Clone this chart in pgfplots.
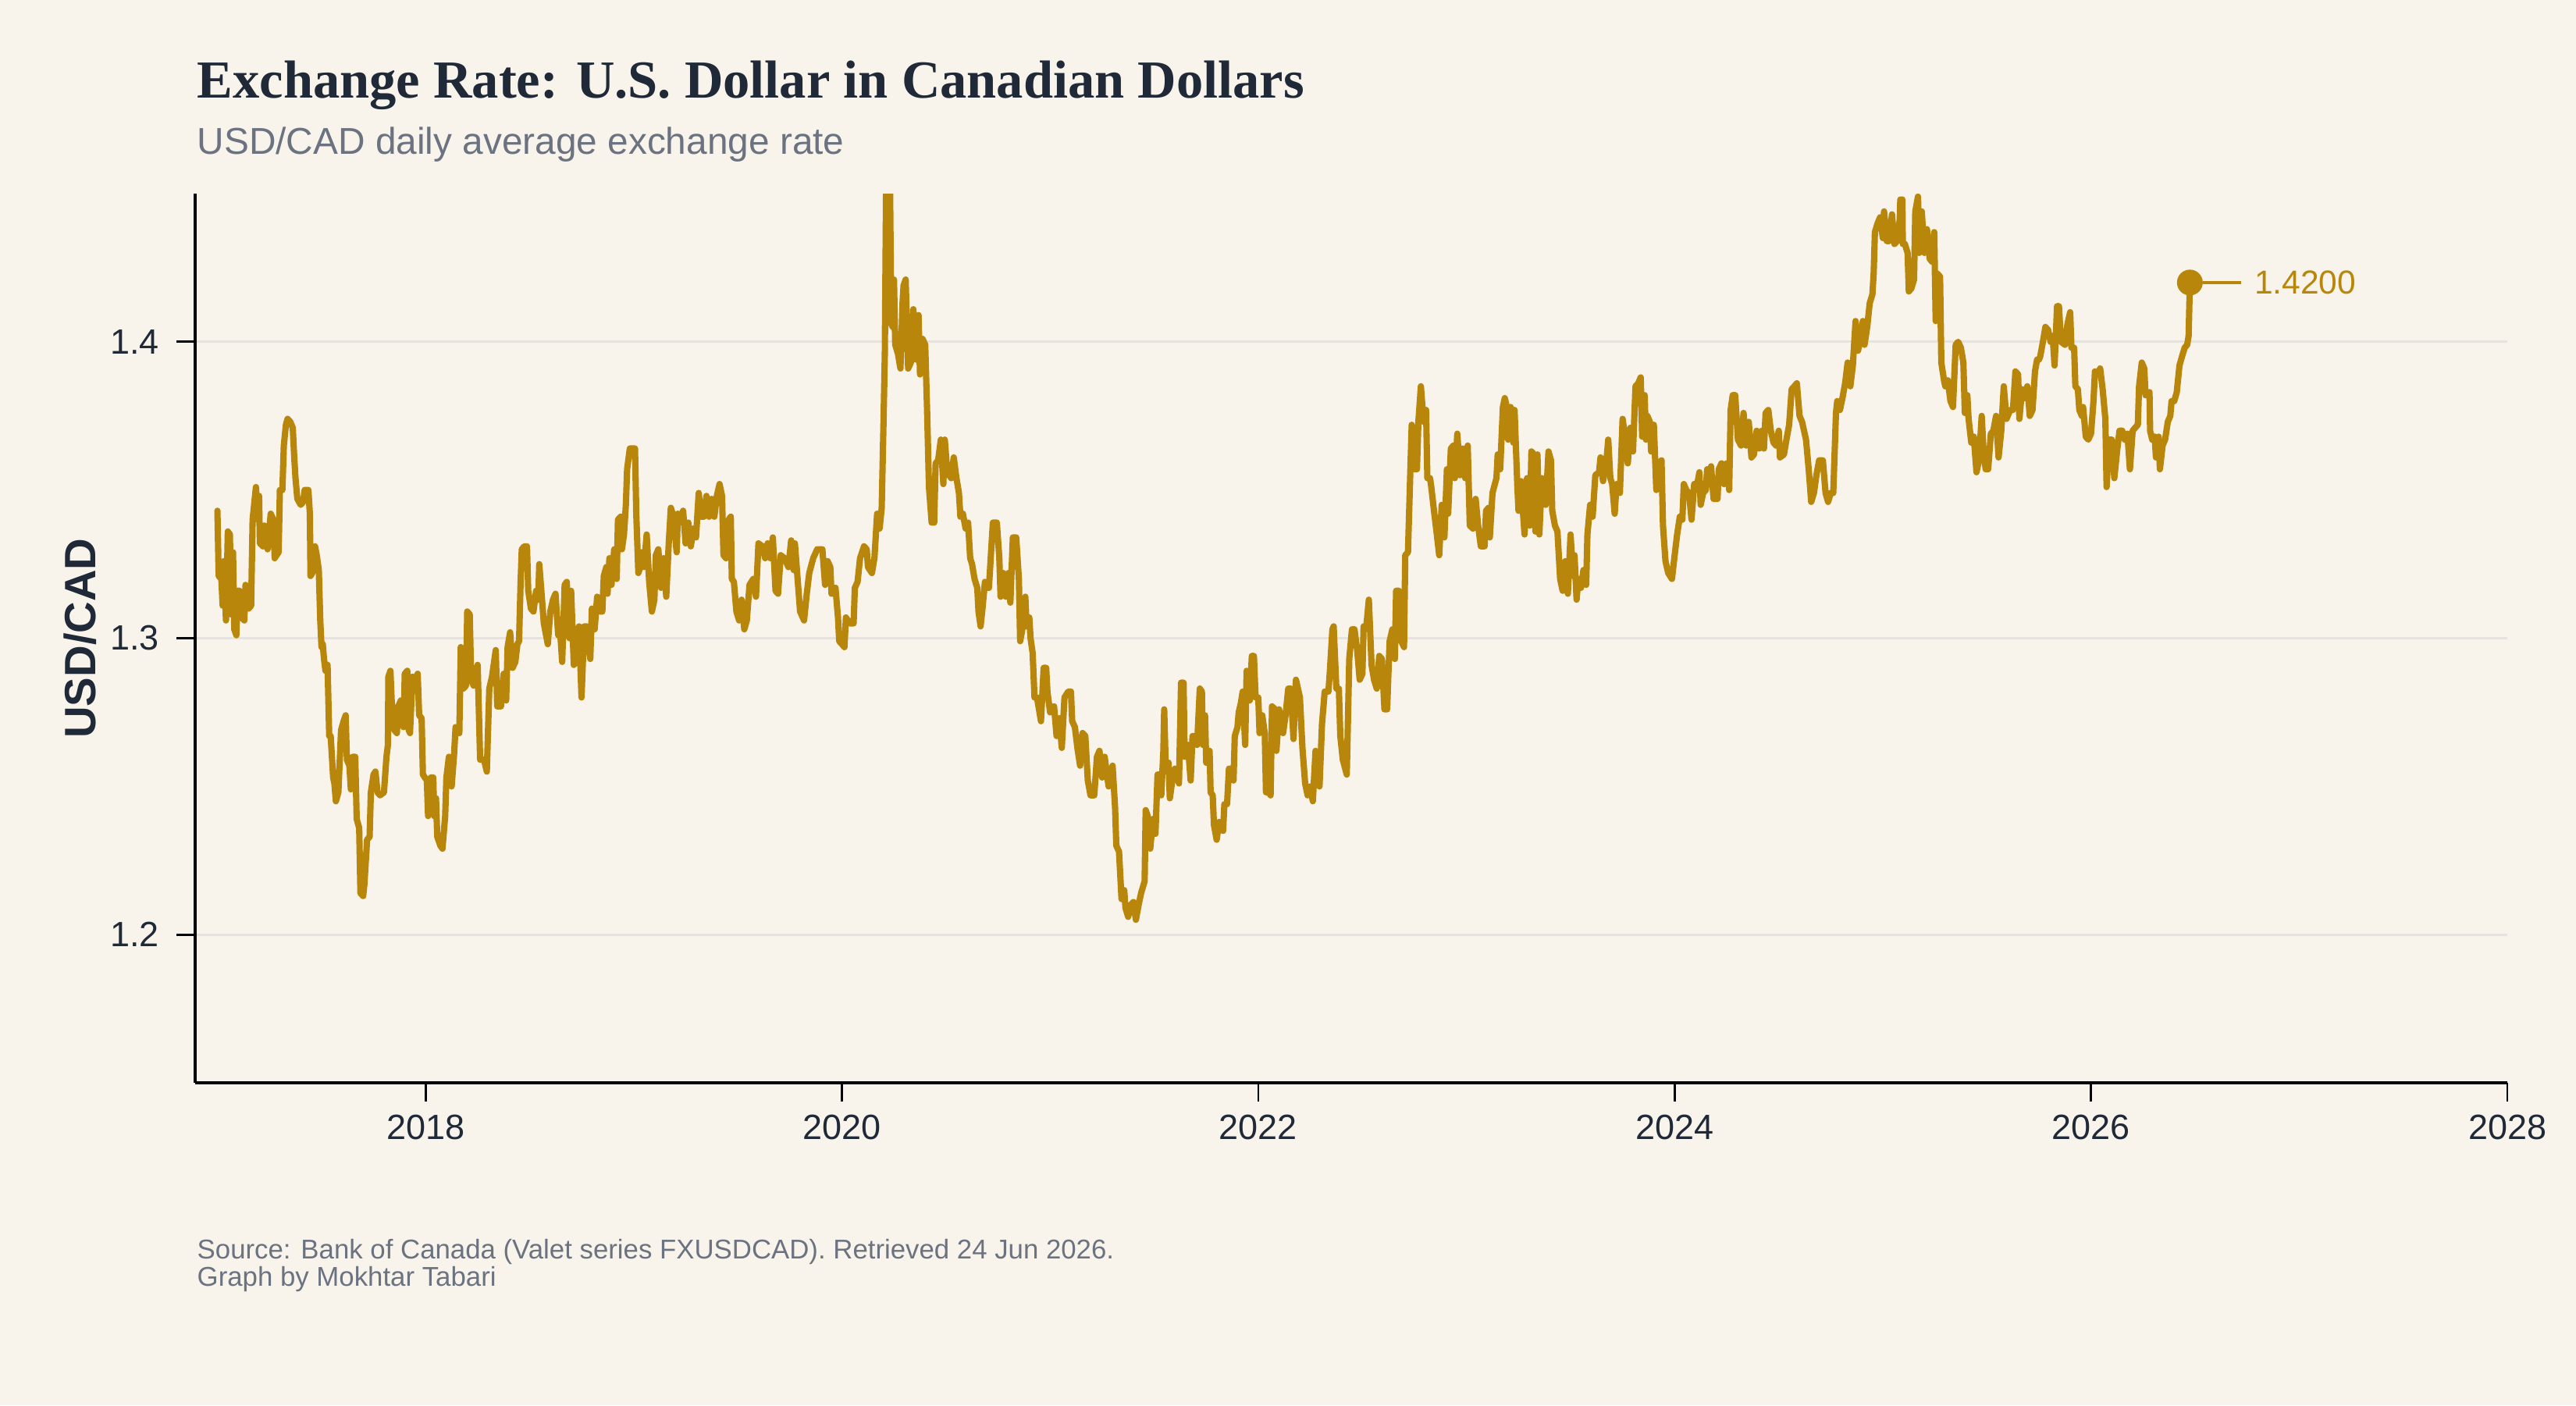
\documentclass[border=0pt]{standalone}
\usepackage{fontspec}
\setmainfont{Liberation Sans}
\newfontfamily\titlefont{Liberation Serif}
\usepackage{pgfplots}
\pgfplotsset{compat=1.18}
\usepackage{pgfplotstable}
\definecolor{bg}{HTML}{F8F4EB}
\definecolor{gold}{HTML}{B8860B}
\definecolor{ink}{HTML}{1F2937}
\definecolor{muted}{HTML}{6B7280}
\definecolor{gridc}{HTML}{E6E3DE}
\pgfplotstableread{
year rate
2017.000 1.343
2017.006 1.321
2017.019 1.320
2017.025 1.311
2017.031 1.326
2017.041 1.306
2017.050 1.336
2017.060 1.335
2017.066 1.308
2017.075 1.329
2017.081 1.303
2017.091 1.301
2017.097 1.316
2017.106 1.316
2017.116 1.307
2017.129 1.306
2017.135 1.318
2017.150 1.310
2017.162 1.311
2017.169 1.340
2017.185 1.351
2017.194 1.340
2017.200 1.348
2017.204 1.332
2017.219 1.331
2017.225 1.338
2017.241 1.330
2017.256 1.342
2017.269 1.340
2017.275 1.327
2017.294 1.329
2017.300 1.350
2017.312 1.350
2017.319 1.365
2017.329 1.372
2017.337 1.374
2017.350 1.373
2017.362 1.371
2017.369 1.361
2017.375 1.354
2017.384 1.347
2017.400 1.345
2017.412 1.346
2017.419 1.350
2017.437 1.350
2017.444 1.342
2017.447 1.321
2017.456 1.322
2017.469 1.331
2017.477 1.328
2017.487 1.323
2017.494 1.306
2017.500 1.297
2017.506 1.298
2017.512 1.293
2017.519 1.289
2017.529 1.291
2017.537 1.267
2017.544 1.267
2017.556 1.253
2017.562 1.251
2017.569 1.245
2017.581 1.248
2017.594 1.269
2017.606 1.272
2017.616 1.274
2017.622 1.259
2017.634 1.257
2017.641 1.249
2017.650 1.260
2017.662 1.260
2017.669 1.239
2017.681 1.236
2017.687 1.214
2017.700 1.213
2017.706 1.217
2017.719 1.232
2017.731 1.233
2017.737 1.248
2017.750 1.254
2017.759 1.255
2017.769 1.248
2017.781 1.247
2017.800 1.248
2017.812 1.260
2017.819 1.264
2017.821 1.287
2017.831 1.289
2017.837 1.279
2017.850 1.269
2017.862 1.268
2017.869 1.277
2017.881 1.279
2017.894 1.270
2017.900 1.288
2017.912 1.289
2017.919 1.269
2017.925 1.268
2017.937 1.287
2017.950 1.286
2017.962 1.288
2017.969 1.274
2017.981 1.273
2017.987 1.254
2018.006 1.252
2018.012 1.240
2018.025 1.253
2018.037 1.253
2018.041 1.240
2018.050 1.246
2018.056 1.233
2018.071 1.230
2018.081 1.229
2018.094 1.240
2018.100 1.253
2018.112 1.260
2018.125 1.250
2018.137 1.261
2018.144 1.270
2018.162 1.268
2018.169 1.297
2018.181 1.283
2018.194 1.284
2018.200 1.309
2018.212 1.308
2018.219 1.286
2018.231 1.284
2018.250 1.291
2018.262 1.259
2018.281 1.259
2018.294 1.255
2018.306 1.283
2018.319 1.287
2018.337 1.296
2018.344 1.277
2018.362 1.277
2018.375 1.288
2018.387 1.279
2018.394 1.297
2018.406 1.302
2018.418 1.290
2018.431 1.292
2018.441 1.298
2018.449 1.299
2018.456 1.318
2018.462 1.330
2018.474 1.331
2018.487 1.331
2018.493 1.316
2018.506 1.310
2018.518 1.309
2018.531 1.316
2018.541 1.313
2018.546 1.325
2018.556 1.316
2018.568 1.305
2018.587 1.298
2018.599 1.309
2018.612 1.313
2018.624 1.315
2018.637 1.301
2018.643 1.306
2018.656 1.292
2018.668 1.318
2018.678 1.319
2018.691 1.300
2018.699 1.316
2018.712 1.291
2018.724 1.292
2018.737 1.304
2018.749 1.280
2018.762 1.304
2018.774 1.304
2018.791 1.293
2018.799 1.310
2018.812 1.303
2018.824 1.314
2018.837 1.309
2018.849 1.309
2018.856 1.321
2018.868 1.324
2018.874 1.315
2018.883 1.327
2018.893 1.318
2018.906 1.330
2018.918 1.320
2018.924 1.340
2018.937 1.341
2018.943 1.330
2018.953 1.335
2018.962 1.345
2018.968 1.357
2018.981 1.364
2018.993 1.364
2019.006 1.364
2019.012 1.342
2019.022 1.322
2019.031 1.324
2019.037 1.329
2019.049 1.324
2019.062 1.335
2019.074 1.319
2019.087 1.309
2019.099 1.313
2019.106 1.328
2019.118 1.330
2019.131 1.317
2019.143 1.327
2019.156 1.314
2019.168 1.332
2019.178 1.344
2019.191 1.341
2019.206 1.329
2019.212 1.342
2019.224 1.340
2019.237 1.343
2019.249 1.332
2019.262 1.339
2019.274 1.331
2019.287 1.337
2019.299 1.334
2019.312 1.349
2019.324 1.341
2019.337 1.341
2019.349 1.348
2019.362 1.341
2019.374 1.347
2019.387 1.341
2019.399 1.348
2019.412 1.352
2019.424 1.348
2019.431 1.328
2019.443 1.327
2019.456 1.340
2019.466 1.341
2019.471 1.320
2019.481 1.319
2019.493 1.309
2019.506 1.306
2019.518 1.313
2019.531 1.303
2019.543 1.306
2019.556 1.318
2019.574 1.320
2019.587 1.314
2019.599 1.332
2019.618 1.331
2019.631 1.327
2019.643 1.332
2019.656 1.327
2019.668 1.334
2019.681 1.316
2019.693 1.315
2019.706 1.328
2019.724 1.327
2019.743 1.324
2019.756 1.333
2019.768 1.323
2019.774 1.332
2019.787 1.320
2019.799 1.309
2019.818 1.306
2019.831 1.315
2019.843 1.322
2019.862 1.327
2019.881 1.330
2019.906 1.330
2019.919 1.318
2019.931 1.326
2019.944 1.324
2019.950 1.315
2019.969 1.317
2019.981 1.307
2019.987 1.299
2020.000 1.298
2020.012 1.297
2020.019 1.307
2020.037 1.305
2020.056 1.305
2020.062 1.317
2020.075 1.319
2020.087 1.327
2020.106 1.331
2020.119 1.330
2020.125 1.324
2020.144 1.322
2020.156 1.327
2020.169 1.342
2020.181 1.337
2020.191 1.344
2020.200 1.374
2020.206 1.396
2020.212 1.452
2020.219 1.425
2020.222 1.452
2020.227 1.410
2020.231 1.452
2020.237 1.406
2020.244 1.405
2020.250 1.421
2020.256 1.399
2020.269 1.396
2020.281 1.391
2020.291 1.413
2020.296 1.419
2020.306 1.421
2020.318 1.391
2020.331 1.393
2020.343 1.411
2020.356 1.394
2020.368 1.409
2020.375 1.389
2020.387 1.401
2020.400 1.399
2020.409 1.377
2020.418 1.351
2020.431 1.339
2020.443 1.339
2020.450 1.359
2020.462 1.360
2020.475 1.367
2020.487 1.352
2020.494 1.367
2020.506 1.356
2020.525 1.354
2020.537 1.361
2020.550 1.354
2020.562 1.349
2020.569 1.341
2020.581 1.342
2020.594 1.337
2020.606 1.339
2020.616 1.327
2020.625 1.325
2020.637 1.320
2020.650 1.317
2020.656 1.309
2020.666 1.304
2020.675 1.310
2020.687 1.319
2020.706 1.317
2020.725 1.339
2020.744 1.339
2020.756 1.327
2020.762 1.314
2020.775 1.322
2020.787 1.314
2020.800 1.322
2020.809 1.312
2020.821 1.334
2020.837 1.334
2020.850 1.320
2020.856 1.299
2020.869 1.304
2020.881 1.314
2020.887 1.304
2020.900 1.307
2020.906 1.300
2020.916 1.295
2020.925 1.280
2020.937 1.280
2020.956 1.272
2020.969 1.290
2020.981 1.290
2020.987 1.282
2021.000 1.275
2021.019 1.277
2021.031 1.267
2021.044 1.273
2021.056 1.263
2021.069 1.280
2021.087 1.282
2021.100 1.282
2021.106 1.272
2021.119 1.270
2021.131 1.263
2021.144 1.257
2021.156 1.268
2021.169 1.267
2021.181 1.252
2021.194 1.247
2021.212 1.247
2021.225 1.260
2021.237 1.262
2021.250 1.253
2021.262 1.260
2021.275 1.253
2021.281 1.250
2021.300 1.257
2021.312 1.243
2021.318 1.230
2021.331 1.228
2021.343 1.212
2021.356 1.215
2021.362 1.209
2021.375 1.206
2021.387 1.210
2021.400 1.211
2021.412 1.205
2021.425 1.210
2021.437 1.214
2021.454 1.218
2021.459 1.242
2021.469 1.240
2021.481 1.229
2021.494 1.239
2021.506 1.234
2021.516 1.254
2021.529 1.254
2021.534 1.247
2021.544 1.262
2021.548 1.276
2021.556 1.255
2021.569 1.258
2021.575 1.246
2021.587 1.252
2021.600 1.256
2021.619 1.251
2021.629 1.285
2021.641 1.285
2021.646 1.260
2021.662 1.264
2021.675 1.252
2021.684 1.267
2021.694 1.267
2021.706 1.264
2021.719 1.283
2021.729 1.282
2021.734 1.264
2021.744 1.274
2021.750 1.258
2021.766 1.262
2021.771 1.248
2021.781 1.247
2021.787 1.237
2021.800 1.232
2021.812 1.238
2021.831 1.235
2021.837 1.244
2021.850 1.244
2021.859 1.256
2021.869 1.256
2021.881 1.252
2021.887 1.267
2021.900 1.270
2021.906 1.275
2021.916 1.278
2021.925 1.282
2021.937 1.264
2021.944 1.289
2021.959 1.279
2021.969 1.294
2021.979 1.294
2021.987 1.280
2022.000 1.280
2022.006 1.268
2022.019 1.274
2022.031 1.268
2022.037 1.248
2022.050 1.248
2022.059 1.247
2022.066 1.277
2022.081 1.276
2022.087 1.262
2022.100 1.276
2022.119 1.268
2022.131 1.274
2022.144 1.283
2022.156 1.283
2022.169 1.266
2022.181 1.286
2022.200 1.280
2022.212 1.263
2022.225 1.251
2022.237 1.247
2022.250 1.250
2022.262 1.245
2022.275 1.262
2022.294 1.250
2022.306 1.271
2022.319 1.282
2022.337 1.282
2022.344 1.289
2022.356 1.303
2022.362 1.304
2022.375 1.283
2022.387 1.283
2022.394 1.267
2022.406 1.259
2022.425 1.254
2022.437 1.293
2022.450 1.303
2022.462 1.303
2022.475 1.296
2022.487 1.286
2022.500 1.288
2022.506 1.304
2022.519 1.304
2022.531 1.313
2022.544 1.291
2022.556 1.286
2022.569 1.283
2022.581 1.294
2022.594 1.293
2022.606 1.276
2022.619 1.276
2022.625 1.288
2022.631 1.299
2022.644 1.303
2022.656 1.293
2022.662 1.316
2022.675 1.316
2022.687 1.299
2022.700 1.297
2022.706 1.328
2022.719 1.329
2022.731 1.358
2022.737 1.372
2022.750 1.357
2022.762 1.357
2022.769 1.373
2022.781 1.385
2022.794 1.373
2022.806 1.377
2022.812 1.354
2022.825 1.354
2022.831 1.351
2022.844 1.343
2022.856 1.336
2022.869 1.328
2022.881 1.345
2022.894 1.334
2022.906 1.357
2022.912 1.342
2022.925 1.364
2022.937 1.365
2022.944 1.354
2022.956 1.369
2022.969 1.355
2022.981 1.364
2022.994 1.354
2023.006 1.365
2023.016 1.338
2023.031 1.337
2023.044 1.347
2023.056 1.338
2023.069 1.331
2023.087 1.331
2023.094 1.343
2023.106 1.344
2023.112 1.334
2023.125 1.349
2023.144 1.354
2023.150 1.362
2023.162 1.357
2023.175 1.378
2023.184 1.381
2023.194 1.378
2023.200 1.367
2023.212 1.378
2023.225 1.366
2023.231 1.377
2023.244 1.352
2023.250 1.343
2023.262 1.353
2023.271 1.343
2023.279 1.335
2023.291 1.354
2023.304 1.338
2023.312 1.363
2023.325 1.362
2023.331 1.336
2023.341 1.362
2023.350 1.335
2023.362 1.354
2023.381 1.345
2023.394 1.363
2023.406 1.360
2023.412 1.343
2023.425 1.338
2023.437 1.336
2023.450 1.320
2023.462 1.316
2023.475 1.326
2023.487 1.315
2023.500 1.335
2023.512 1.321
2023.519 1.328
2023.529 1.313
2023.537 1.320
2023.550 1.317
2023.562 1.323
2023.575 1.318
2023.581 1.335
2023.594 1.345
2023.606 1.341
2023.619 1.355
2023.637 1.356
2023.644 1.361
2023.656 1.353
2023.675 1.362
2023.681 1.367
2023.691 1.354
2023.700 1.352
2023.712 1.342
2023.721 1.352
2023.737 1.349
2023.750 1.374
2023.762 1.368
2023.775 1.359
2023.787 1.371
2023.800 1.363
2023.812 1.385
2023.825 1.386
2023.837 1.388
2023.844 1.368
2023.856 1.382
2023.862 1.367
2023.869 1.375
2023.881 1.373
2023.887 1.363
2023.900 1.372
2023.912 1.350
2023.925 1.359
2023.937 1.360
2023.944 1.338
2023.956 1.326
2023.969 1.322
2023.987 1.320
2024.000 1.328
2024.012 1.335
2024.025 1.341
2024.037 1.340
2024.044 1.352
2024.056 1.350
2024.069 1.349
2024.081 1.340
2024.094 1.352
2024.106 1.351
2024.119 1.356
2024.125 1.345
2024.137 1.349
2024.150 1.350
2024.156 1.357
2024.169 1.354
2024.175 1.358
2024.187 1.347
2024.206 1.347
2024.212 1.357
2024.225 1.359
2024.237 1.352
2024.250 1.359
2024.262 1.350
2024.269 1.377
2024.279 1.382
2024.291 1.382
2024.304 1.367
2024.319 1.365
2024.331 1.376
2024.344 1.365
2024.356 1.373
2024.369 1.361
2024.381 1.362
2024.394 1.370
2024.406 1.364
2024.419 1.370
2024.429 1.364
2024.437 1.376
2024.450 1.377
2024.462 1.370
2024.475 1.366
2024.487 1.365
2024.500 1.370
2024.506 1.361
2024.525 1.362
2024.537 1.367
2024.550 1.372
2024.562 1.384
2024.575 1.385
2024.587 1.386
2024.600 1.375
2024.612 1.373
2024.631 1.367
2024.644 1.357
2024.656 1.346
2024.669 1.349
2024.681 1.355
2024.694 1.360
2024.712 1.360
2024.725 1.349
2024.737 1.346
2024.750 1.349
2024.762 1.349
2024.775 1.376
2024.781 1.380
2024.794 1.377
2024.806 1.381
2024.819 1.386
2024.831 1.393
2024.844 1.385
2024.856 1.392
2024.869 1.407
2024.881 1.397
2024.894 1.402
2024.904 1.407
2024.912 1.399
2024.925 1.405
2024.937 1.413
2024.950 1.416
2024.956 1.423
2024.962 1.437
2024.975 1.440
2024.987 1.442
2025.000 1.435
2025.006 1.444
2025.019 1.434
2025.031 1.434
2025.044 1.443
2025.056 1.433
2025.069 1.434
2025.081 1.441
2025.084 1.448
2025.094 1.448
2025.096 1.433
2025.106 1.433
2025.119 1.430
2025.125 1.417
2025.137 1.418
2025.150 1.421
2025.156 1.444
2025.169 1.449
2025.175 1.430
2025.187 1.444
2025.200 1.430
2025.212 1.438
2025.225 1.428
2025.237 1.427
2025.247 1.437
2025.254 1.407
2025.262 1.423
2025.275 1.422
2025.281 1.393
2025.294 1.387
2025.300 1.385
2025.312 1.387
2025.325 1.380
2025.337 1.378
2025.350 1.399
2025.362 1.400
2025.375 1.398
2025.387 1.393
2025.394 1.376
2025.406 1.382
2025.412 1.374
2025.425 1.366
2025.437 1.368
2025.450 1.356
2025.462 1.360
2025.475 1.375
2025.484 1.363
2025.494 1.357
2025.506 1.357
2025.519 1.369
2025.531 1.370
2025.544 1.375
2025.556 1.361
2025.569 1.370
2025.581 1.385
2025.594 1.374
2025.612 1.377
2025.625 1.377
2025.637 1.390
2025.650 1.389
2025.656 1.374
2025.669 1.384
2025.681 1.381
2025.694 1.385
2025.706 1.375
2025.719 1.377
2025.731 1.390
2025.741 1.394
2025.750 1.394
2025.756 1.395
2025.769 1.400
2025.781 1.405
2025.794 1.404
2025.806 1.400
2025.816 1.402
2025.825 1.392
2025.837 1.412
2025.846 1.412
2025.856 1.400
2025.875 1.399
2025.887 1.406
2025.900 1.410
2025.906 1.398
2025.919 1.398
2025.925 1.385
2025.937 1.384
2025.944 1.377
2025.956 1.375
2025.962 1.378
2025.975 1.368
2025.987 1.367
2026.000 1.369
2026.012 1.380
2026.019 1.390
2026.031 1.389
2026.044 1.391
2026.056 1.384
2026.069 1.374
2026.075 1.351
2026.087 1.367
2026.100 1.367
2026.112 1.354
2026.125 1.363
2026.137 1.370
2026.150 1.370
2026.162 1.367
2026.175 1.369
2026.187 1.357
2026.200 1.370
2026.212 1.371
2026.225 1.372
2026.231 1.385
2026.244 1.393
2026.256 1.391
2026.262 1.382
2026.281 1.383
2026.284 1.370
2026.294 1.367
2026.306 1.368
2026.312 1.361
2026.325 1.368
2026.331 1.357
2026.344 1.365
2026.356 1.367
2026.369 1.373
2026.381 1.375
2026.387 1.380
2026.400 1.380
2026.412 1.383
2026.425 1.392
2026.437 1.395
2026.450 1.398
2026.462 1.399
2026.469 1.402
2026.475 1.420
}\ratedata
\begin{document}
\begin{tikzpicture}
\fill[bg] (0,0) rectangle (33cm,18cm);
\useasboundingbox (0,0) rectangle (33cm,18cm);
\node[anchor=base west, inner sep=0pt, text=ink] at (2.52cm,16.74cm)
  {\titlefont\bfseries\fontsize{19.5}{23}\selectfont Exchange Rate: U.S. Dollar in Canadian Dollars};
\node[anchor=base west, inner sep=0pt, text=muted] at (2.52cm,16.02cm)
  {\fontsize{13.6}{16}\selectfont USD/CAD daily average exchange rate};
\node[anchor=base west, inner sep=0pt, text=muted] at (2.52cm,1.88cm)
  {\fontsize{9.9}{12}\selectfont Source: Bank of Canada (Valet series FXUSDCAD). Retrieved 24 Jun 2026.};
\node[anchor=base west, inner sep=0pt, text=muted] at (2.52cm,1.53cm)
  {\fontsize{9.9}{12}\selectfont Graph by Mokhtar Tabari};
\begin{axis}[
  at={(2.50cm,4.13cm)}, anchor=south west,
  scale only axis, width=29.62cm, height=11.39cm,
  xmin=2016.893, xmax=2028, ymin=1.15, ymax=1.45,
  axis x line=bottom, axis y line=left,
  axis line style={-, black, line width=1.2pt},
  xtick={2018,2020,2022,2024,2026,2028},
  xticklabels={2018,2020,2022,2024,2026,2028},
  ytick={1.2,1.3,1.4},
  yticklabels={1.2,1.3,1.4},
  tick align=outside,
  major tick length=0.24cm,
  minor tick num=0,
  tick style={black, line width=0.8pt},
  ticklabel style={font=\fontsize{12.8}{15}\selectfont, text=ink},
  xticklabel style={yshift=-0.05cm},
  yticklabel style={xshift=-0.1cm},
  ymajorgrids=true,
  grid style={gridc, line width=0.8pt},
  ylabel={USD/CAD},
  ylabel style={at={(axis description cs:-0.0496,0.5)}, anchor=center, rotate=0,
    font=\bfseries\fontsize{16}{18}\selectfont, text=ink},
  clip=true,
]
\addplot[gold, line width=2.3pt, line join=round, line cap=round] table[x=year, y=rate] {\ratedata};
\addplot[only marks, mark=*, mark size=4.5pt, gold, mark options={draw=gold, fill=gold}] coordinates {(2026.475,1.42)};
\draw[gold, line width=1.1pt] ([xshift=0.17cm]axis cs:2026.475,1.42) -- ([xshift=0.66cm]axis cs:2026.475,1.42);
\node[anchor=west, inner sep=0pt, text=gold, font=\fontsize{12.1}{14}\selectfont] at ([xshift=0.82cm]axis cs:2026.475,1.42) {1.4200};
\end{axis}
\end{tikzpicture}
\end{document}
